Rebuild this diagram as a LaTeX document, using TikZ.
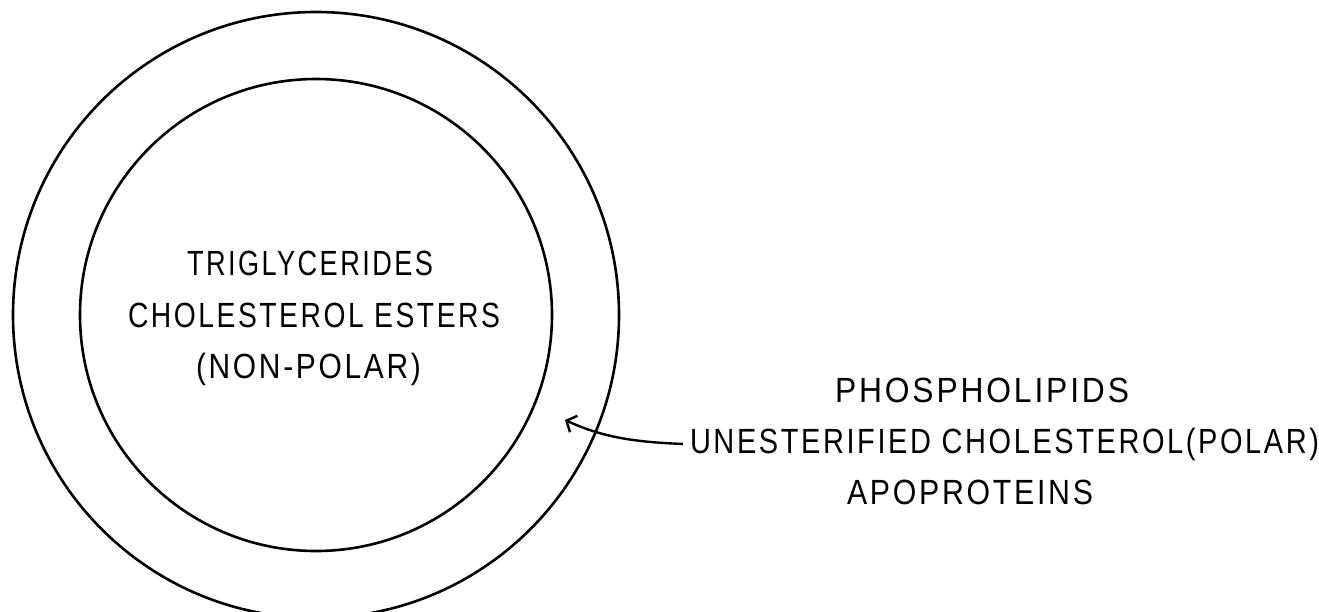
\documentclass[tikz,border=0pt]{standalone}
\usepackage{fontspec}
\setmainfont[LetterSpace=9]{Liberation Sans}
\usetikzlibrary{arrows.meta}
\newcommand\fitw[2]{\setbox0=\hbox{#2}\pgfmathsetmacro\fitfx{#1/\the\wd0}\scalebox{\fitfx}[1]{\box0}}
\begin{document}
\begin{tikzpicture}[x=1pt,y=-1pt,
  ring/.style={circle, draw, line width=2.6pt, inner sep=0pt},
  lbl/.style={anchor=base west, inner sep=0pt, outer sep=0pt, font=\fontsize{35}{42}\selectfont},
  pointer/.style={line width=2.4pt, -{Straight Barb[length=8pt,width=18pt]}}]
\clip (0,0) rectangle (1319,611);
\fill[white] (0,0) rectangle (1319,611);
\node[ring, minimum size=606pt] (outer) at (316,315) {};
\node[ring, minimum size=472pt] (inner) at (316,315) {};
\node[lbl] (tri) at (187,275) {\fitw{246pt}{TRIGLYCERIDES}};
\node[lbl] (chol) at (128,327) {\fitw{372pt}{CHOLESTEROL ESTERS}};
\node[lbl] (nonpolar) at (196,378) {\fitw{225pt}{(NON-POLAR)}};
\node[lbl] (phos) at (835,402) {\fitw{294pt}{PHOSPHOLIPIDS}};
\node[lbl] (unest) at (690,453) {\fitw{629pt}{UNESTERIFIED CHOLESTEROL(POLAR)}};
\node[lbl] (apo) at (847,504) {\fitw{246pt}{APOPROTEINS}};
\coordinate (tip) at (565,420);
\draw[pointer] ([xshift=-7pt]unest.west) .. controls (630,442) and (600,436) .. (tip);
\end{tikzpicture}
\end{document}
